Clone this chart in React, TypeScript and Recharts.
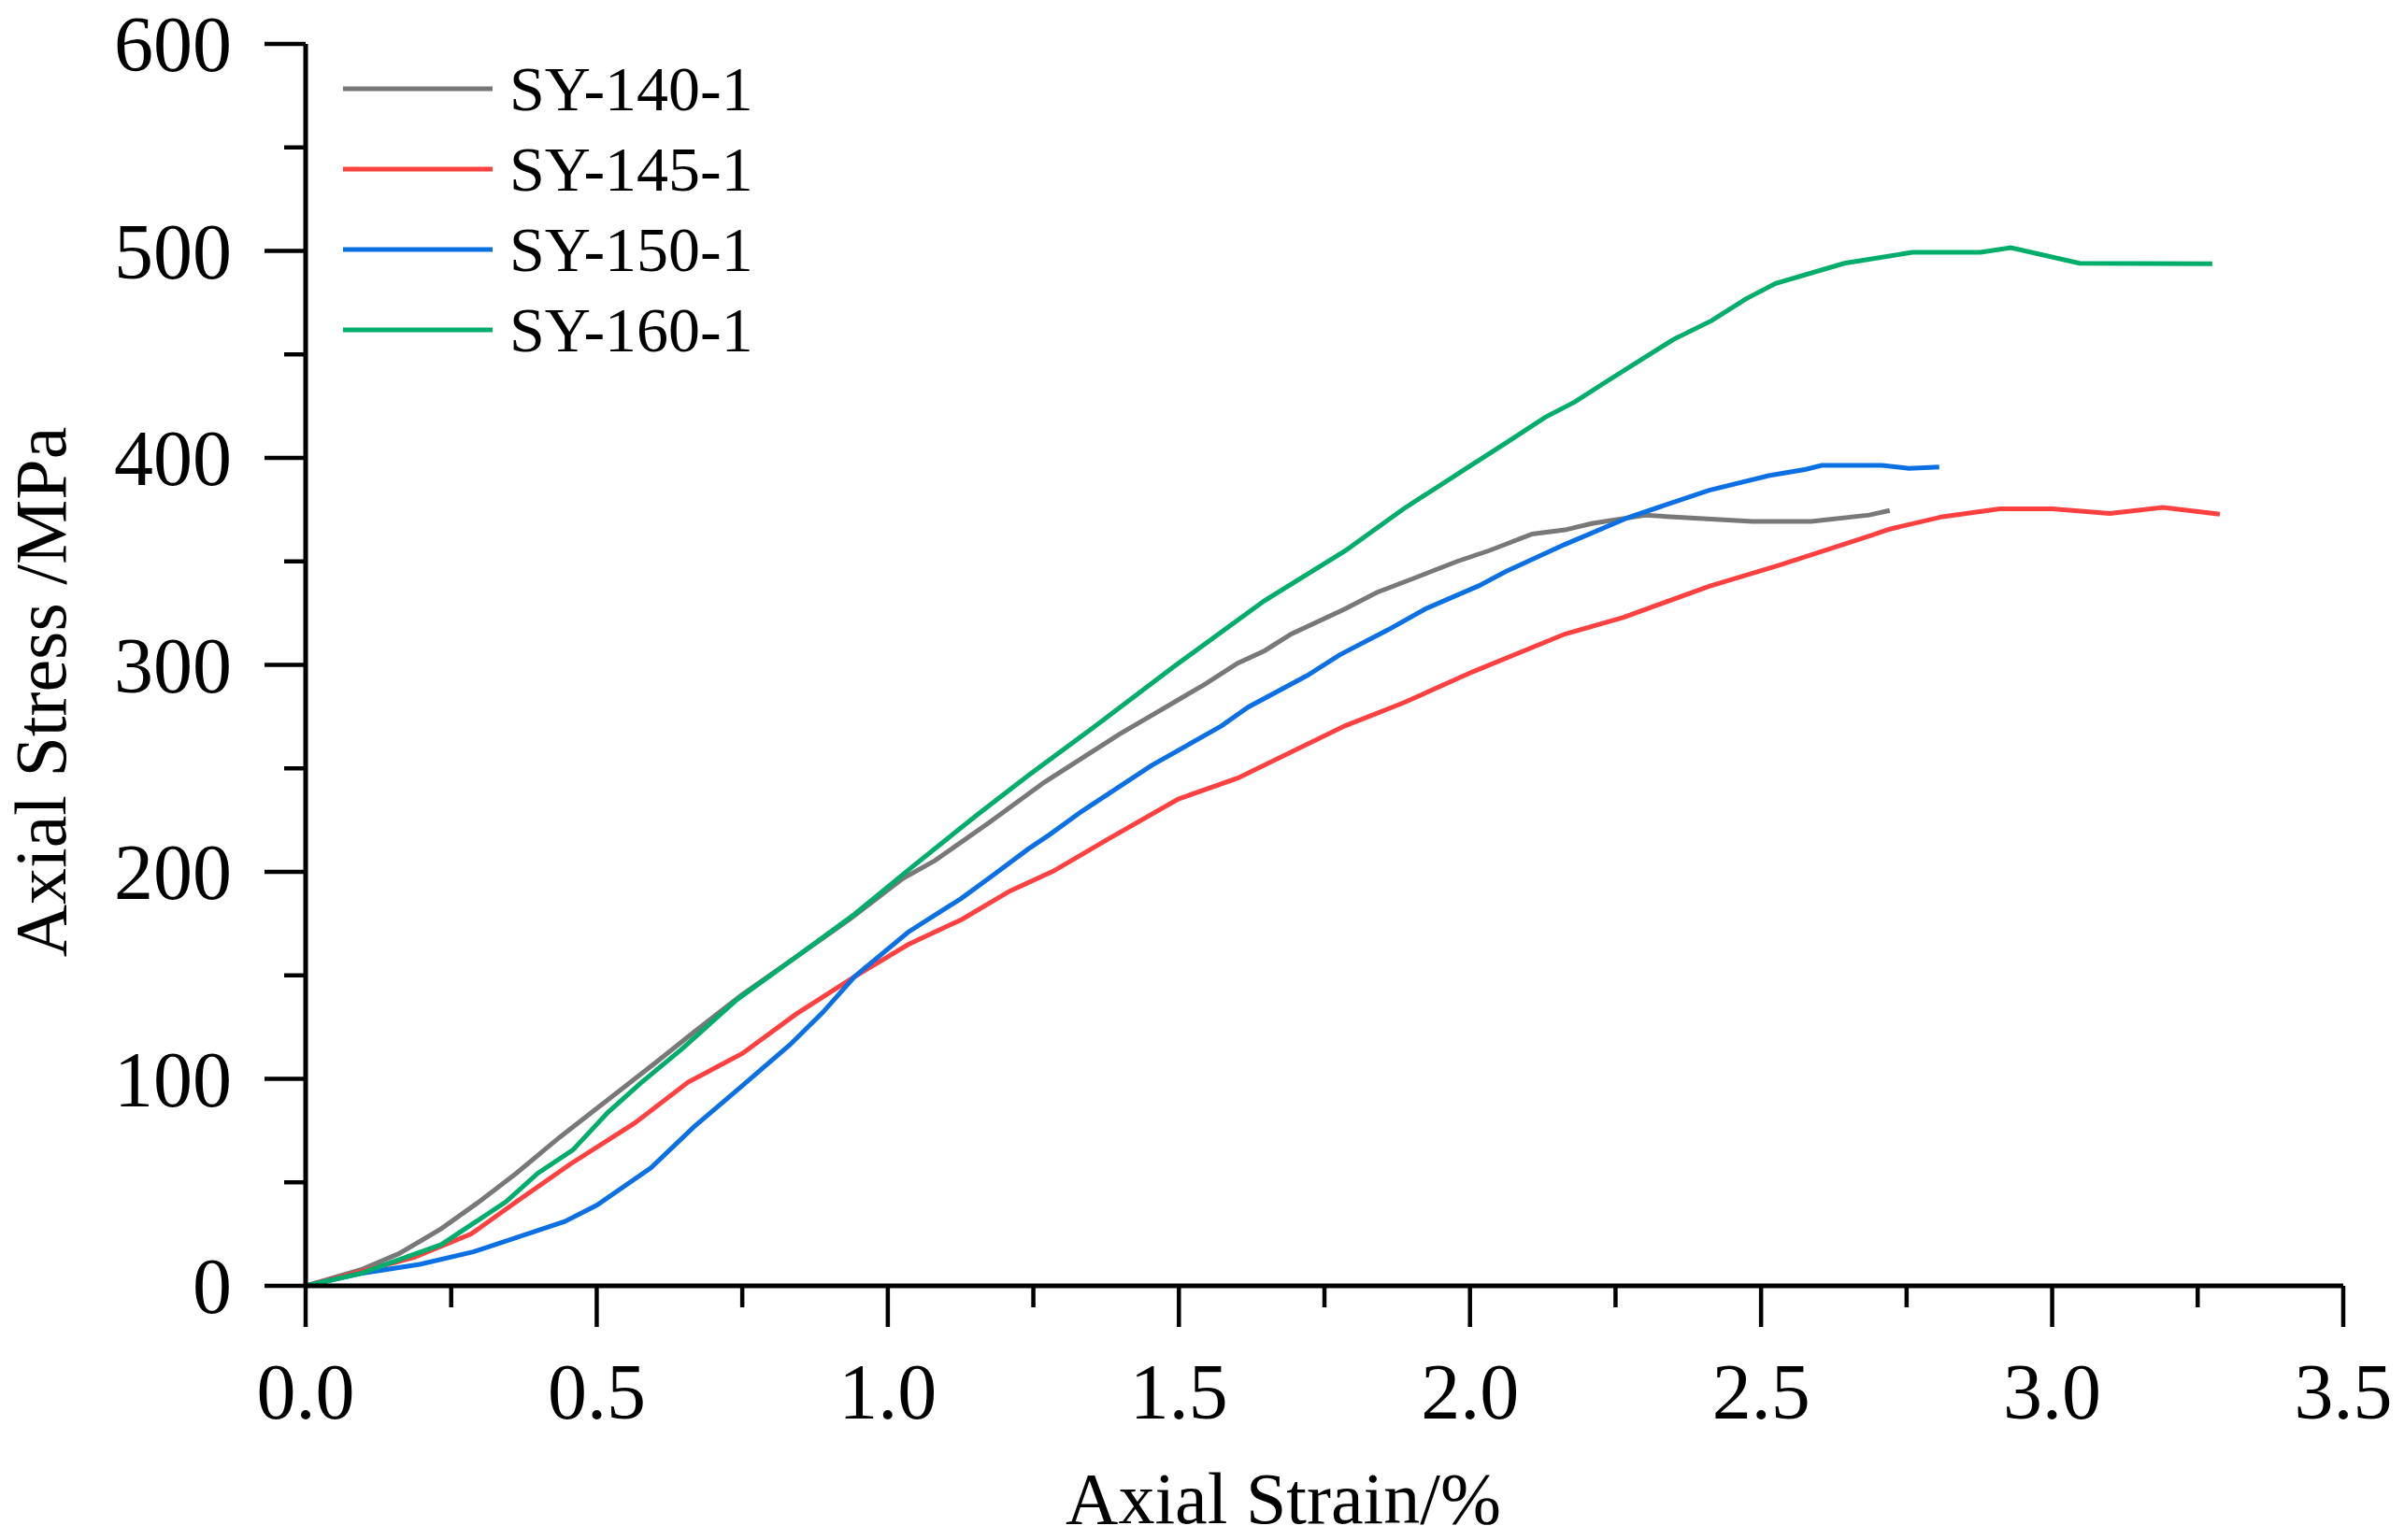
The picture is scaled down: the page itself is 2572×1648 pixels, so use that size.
import { Legend, Line, LineChart, XAxis, YAxis } from 'recharts';

type Pair = [number, number];

const FONT = '"Liberation Serif", "Times New Roman", serif';

const seriesNames = ['SY-140-1', 'SY-145-1', 'SY-150-1', 'SY-160-1'];
const seriesColors = ['#787878', '#ff4040', '#0a70e4', '#00ad6b'];

const xTicks = [0, 0.25, 0.5, 0.75, 1, 1.25, 1.5, 1.75, 2, 2.25, 2.5, 2.75, 3, 3.25, 3.5];
const yTicks = [0, 50, 100, 150, 200, 250, 300, 350, 400, 450, 500, 550, 600];

// [axial strain %, axial stress MPa]
const sy140: Pair[] = [
  [0, 0], [0.095, 7.8], [0.16, 15.5], [0.233, 27.6], [0.298, 40.6], [0.362, 54.4],
  [0.436, 71.7], [0.519, 89.8], [0.602, 108], [0.667, 122.6], [0.75, 140.7], [0.842, 158.8],
  [0.934, 177], [1.026, 196.8], [1.081, 205.5], [1.173, 223.6], [1.269, 243.3], [1.398, 266.5],
  [1.545, 290.7], [1.601, 300.8], [1.647, 306.8], [1.693, 314.9], [1.785, 327], [1.84, 335],
  [1.905, 342], [1.978, 350], [2.034, 355.3], [2.107, 363.2], [2.163, 365.2], [2.209, 368.3],
  [2.301, 372.3], [2.485, 369.3], [2.586, 369.3], [2.686, 372.4], [2.721, 374.6],
];

const sy145: Pair[] = [
  [0, 0], [0.095, 6.9], [0.187, 13.8], [0.284, 25], [0.362, 40.6], [0.454, 58.7],
  [0.565, 78.6], [0.657, 98.4], [0.75, 112.2], [0.842, 131.2], [0.943, 149.4], [1.035, 164.9],
  [1.127, 177], [1.21, 190.8], [1.284, 200.3], [1.38, 216.1], [1.499, 235.2], [1.601, 245.3],
  [1.785, 270.5], [1.886, 281.7], [2.006, 296.8], [2.163, 314.9], [2.264, 323], [2.411, 338],
  [2.531, 348.1], [2.686, 362.2], [2.721, 365.6], [2.812, 371.6], [2.91, 375.4], [3.0, 375.4],
  [3.099, 373.1], [3.19, 376.1], [3.288, 372.8],
];

const sy150: Pair[] = [
  [0, 0], [0.095, 6], [0.196, 10.4], [0.288, 16.4], [0.362, 23.3], [0.445, 31.1],
  [0.5, 38.9], [0.593, 57], [0.667, 76.8], [0.75, 96.7], [0.832, 116.5], [0.888, 132],
  [0.943, 149.4], [1.035, 170.9], [1.127, 187.3], [1.182, 198.6], [1.241, 211], [1.278, 218],
  [1.333, 229.2], [1.453, 251.4], [1.573, 270.5], [1.619, 279.6], [1.72, 294.8], [1.776, 304.8],
  [1.859, 316.9], [1.923, 327], [2.015, 338.2], [2.061, 345], [2.163, 358.2], [2.273, 371.3],
  [2.411, 384.4], [2.513, 391.4], [2.577, 394.5], [2.604, 396.4], [2.708, 396.4], [2.754, 394.9],
  [2.806, 395.6],
];

const sy160: Pair[] = [
  [0, 0], [0.095, 6], [0.233, 19.9], [0.344, 40.6], [0.399, 54.4], [0.459, 65.6],
  [0.519, 83.7], [0.574, 97.6], [0.648, 114.8], [0.74, 138.1], [0.842, 158.8], [0.943, 179.6],
  [1.044, 202.9], [1.155, 227.9], [1.241, 246.5], [1.352, 269.5], [1.49, 298.9], [1.647, 331],
  [1.785, 355], [1.886, 375.4], [1.997, 395.5], [2.064, 407.6], [2.129, 419.6], [2.18, 427],
  [2.239, 437.7], [2.35, 457.3], [2.415, 466.3], [2.474, 476.8], [2.525, 484.3], [2.643, 494],
  [2.76, 499.3], [2.877, 499.3], [2.929, 501.6], [3.047, 494], [3.275, 493.8],
];

const allSeries = [sy140, sy145, sy150, sy160];

const toRows = (pairs: Pair[]) => pairs.map(([x, y]) => ({ x, y }));

function XTick({ x, y, payload }: any) {
  const major = Math.abs((payload.value * 2) % 1) < 1e-6;
  return (
    <g>
      <line x1={x} x2={x} y1={y} y2={y + (major ? 44 : 23)} stroke='#000' strokeWidth={4.5} />
      {major && (
        <text x={x} y={y + 142} textAnchor='middle' fontSize={84} fontFamily={FONT} fill='#000'>
          {payload.value.toFixed(1)}
        </text>
      )}
    </g>
  );
}

function YTick({ x, y, payload }: any) {
  const major = payload.value % 100 === 0;
  return (
    <g>
      <line x1={x} x2={x - (major ? 44 : 23)} y1={y} y2={y} stroke='#000' strokeWidth={4.5} />
      {major && (
        <text x={x - 79} y={y + 29} textAnchor='end' fontSize={84} fontFamily={FONT} fill='#000'>
          {payload.value}
        </text>
      )}
    </g>
  );
}

function LegendBox() {
  return (
    <svg width={900} height={420} style={{ display: 'block' }}>
      {seriesNames.map((name, i) => {
        const cy = 95 + i * 86;
        return (
          <g key={name}>
            <line x1={367} x2={527} y1={cy} y2={cy} stroke={seriesColors[i]} strokeWidth={5} />
            <text x={545} y={cy + 23} fontSize={68} fontFamily={FONT} fill='#000'>
              {name}
            </text>
          </g>
        );
      })}
    </svg>
  );
}

export default function App() {
  return (
    <div style={{ position: 'absolute', left: 0, top: 0, background: '#fff' }}>
      <LineChart width={2572} height={1648} margin={{ top: 47, right: 65, left: 0, bottom: 0 }}>
        <XAxis
          type='number'
          dataKey='x'
          domain={[0, 3.5]}
          ticks={xTicks}
          interval={0}
          height={272}
          tickSize={0}
          tickMargin={0}
          tickLine={false}
          tick={<XTick />}
          axisLine={{ stroke: '#000', strokeWidth: 5 }}
          allowDataOverflow
          label={{
            content: ({ viewBox }: any) => (
              <text
                x={viewBox.x + viewBox.width / 2 - 44}
                y={viewBox.y + 254}
                textAnchor='middle'
                fontSize={78}
                fontFamily={FONT}
                fill='#000'
              >
                Axial Strain/%
              </text>
            ),
          }}
        />
        <YAxis
          type='number'
          domain={[0, 600]}
          ticks={yTicks}
          interval={0}
          width={327}
          tickSize={0}
          tickMargin={0}
          tickLine={false}
          tick={<YTick />}
          axisLine={{ stroke: '#000', strokeWidth: 5 }}
          allowDataOverflow
          label={{
            content: ({ viewBox }: any) => {
              const cx = viewBox.x + 70;
              const cy = viewBox.y + viewBox.height / 2 + 29;
              return (
                <text
                  x={cx}
                  y={cy}
                  transform={`rotate(-90, ${cx}, ${cy})`}
                  textAnchor='middle'
                  fontSize={78}
                  fontFamily={FONT}
                  fill='#000'
                >
                  Axial Stress /MPa
                </text>
              );
            },
          }}
        />
        <Legend
          layout='vertical'
          align='center'
          verticalAlign='middle'
          wrapperStyle={{ left: 0, top: 0, width: 900, height: 420 }}
          content={() => <LegendBox />}
        />
        {allSeries.map((pairs, i) => (
          <Line
            key={seriesNames[i]}
            data={toRows(pairs)}
            dataKey='y'
            name={seriesNames[i]}
            type='linear'
            stroke={seriesColors[i]}
            strokeWidth={5}
            dot={false}
            activeDot={false}
            isAnimationActive={false}
          />
        ))}
      </LineChart>
    </div>
  );
}
